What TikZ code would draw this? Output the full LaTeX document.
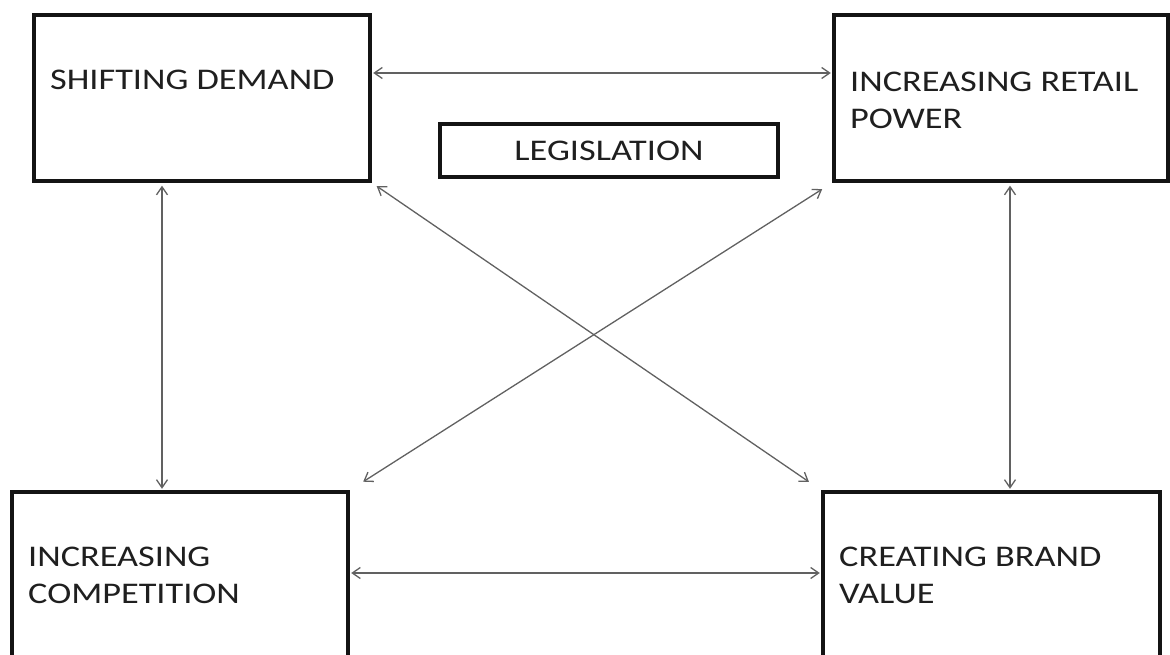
\documentclass[tikz,border=0pt]{standalone}
\usepackage{fontspec}
\setmainfont{Carlito}
\newfontfamily\lblfont[FakeStretch=1.21]{Carlito}
\usetikzlibrary{arrows.meta}
\begin{document}
\begin{tikzpicture}[x=1pt,y=-1pt,
  box/.style={draw=black!92, line width=3.4pt, inner sep=0pt, fill=white},
  lbl/.style={anchor=north west, inner sep=0pt, align=left,
    font=\lblfont\fontsize{30}{37}\selectfont, text=black!88},
  link/.style={draw=black!62, line width=1.3pt,
    {Straight Barb[length=8pt,width=11pt]}-{Straight Barb[length=8pt,width=11pt]}}]
\useasboundingbox (0,0) rectangle (1170,655);
\clip (0,0) rectangle (1170,655);

% the four driving forces and the central box
\node[box, minimum width=336pt, minimum height=166pt] (demand) at (202,98) {};
\node[box, minimum width=334pt, minimum height=166pt] (retail) at (1001,98) {};
\node[box, minimum width=338pt, minimum height=53pt] (legis) at (609,150.5) {};
\node[box, minimum width=336pt, minimum height=173pt] (compet) at (180,578.5) {};
\node[box, minimum width=337pt, minimum height=173pt] (brand) at (991.5,578.5) {};

% labels
\node[lbl] (tdemand) at (50,70) {SHIFTING DEMAND};
\node[lbl] (tretail) at (850,72) {INCREASING RETAIL\\POWER};
\node[lbl, anchor=center] (tlegis) at (legis.center) {LEGISLATION};
\node[lbl] (tcompet) at (28,547) {INCREASING\\COMPETITION};
\node[lbl] (tbrand) at (839,547) {CREATING BRAND\\VALUE};

% two-way links
\draw[link, shorten <=1.5pt, shorten >=1.5pt]
  ([yshift=25pt]demand.east) -- ([yshift=25pt]retail.west);
\draw[link, shorten <=1.5pt, shorten >=1.5pt]
  ([yshift=5.5pt]compet.east) -- ([yshift=5.5pt]brand.west);
\draw[link, shorten <=3pt, shorten >=1.5pt]
  ([xshift=-40pt]demand.south) -- ([xshift=-18pt]compet.north);
\draw[link, shorten <=3pt, shorten >=1.5pt]
  ([xshift=9pt]retail.south) -- ([xshift=18.5pt]brand.north);
\draw[link, shorten <=6pt, shorten >=15pt]
  (demand.south east) -- (brand.north west);
\draw[link, shorten <=12pt, shorten >=16pt]
  (retail.south west) -- (compet.north east);
\end{tikzpicture}
\end{document}
